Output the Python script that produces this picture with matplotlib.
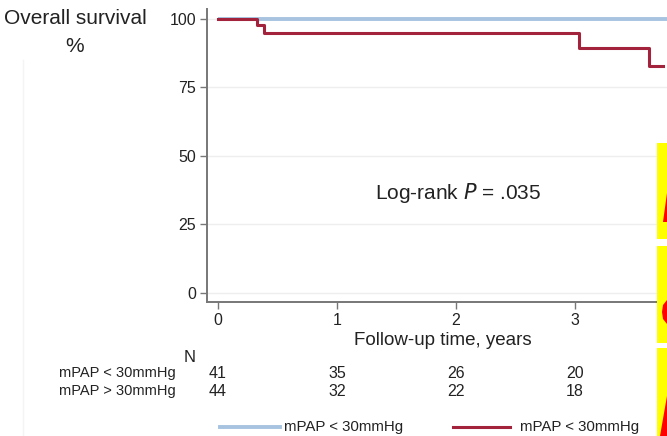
import matplotlib
matplotlib.use("Agg")
import matplotlib.pyplot as plt
from matplotlib.patches import Rectangle, Polygon
from matplotlib.lines import Line2D
import matplotlib.transforms as mtransforms

plt.rcParams['font.family'] = ['Liberation Sans', 'DejaVu Sans']

# ---- data ----
low_times = [0, 3.8]
low_surv = [100, 100]
high_times = [0, 0.325, 0.39, 3.03, 3.62, 3.74]
high_surv = [100, 97.7, 95.0, 89.5, 82.8, 82.8]
x_ticks = [0, 1, 2, 3]
y_ticks = [0, 25, 50, 75, 100]
risk_times = [0, 1, 2, 3]
risk_low = [41, 35, 26, 20]
risk_high = [44, 32, 22, 18]
row_labels = ["mPAP < 30mmHg", "mPAP > 30mmHg"]
legend_labels = ["mPAP < 30mmHg", "mPAP < 30mmHg"]

W, H = 667, 436
fig = plt.figure(figsize=(W / 100, H / 100), dpi=100)

def fx(px):
    return px / W

def fy(py):
    return 1 - py / H

blue = '#a7c3e0'
red = '#a3223c'
gray = '#777777'
txt = '#222222'

ax = fig.add_axes([fx(207), fy(302), fx(460), 293 / H])
ax.set_xlim(-0.0924, 3.773)
ax.set_ylim(-3.3, 103.6)
for s in ['top', 'right']:
    ax.spines[s].set_visible(False)
for s in ['left', 'bottom']:
    ax.spines[s].set_color(gray)
    ax.spines[s].set_linewidth(1.4)
ax.set_xticks(x_ticks)
ax.set_yticks(y_ticks)
ax.tick_params(axis='both', colors=gray, length=5, width=1, labelsize=11.5,
               labelcolor=txt, pad=3)
ax.yaxis.grid(True, color='#eeeeee', linewidth=1)
ax.set_axisbelow(True)

ax.plot(low_times, low_surv, color=blue, linewidth=2.8, solid_capstyle='butt', zorder=2)
ax.plot(high_times, high_surv, color=red, linewidth=2.2, drawstyle='steps-post', zorder=3)

ax.text(2.02, 36.5, "Log-rank $\\it{P}$ = .035", fontsize=15, ha='center', va='center',
        color=txt)

fig.text(fx(443), fy(340), "Follow-up time, years", fontsize=13.5, ha='center', va='center',
         color=txt)

fig.text(fx(75), fy(18), "Overall survival", fontsize=15, ha='center', va='center', color=txt)
fig.text(fx(75), fy(46), "%", fontsize=15, ha='center', va='center', color=txt)

# risk table
trans = mtransforms.blended_transform_factory(ax.transData, fig.transFigure)
fig.text(fx(190), fy(357), "N", fontsize=12, ha='center', va='center', color=txt)
for lab, yy in zip(row_labels, [373, 391]):
    fig.text(fx(176), fy(yy), lab, fontsize=10.5, ha='right', va='center', color=txt)
for t, a, b in zip(risk_times, risk_low, risk_high):
    fig.text(t, fy(373), str(a), fontsize=11.5, ha='center', va='center', transform=trans,
             color=txt)
    fig.text(t, fy(391), str(b), fontsize=11.5, ha='center', va='center', transform=trans,
             color=txt)

# legend
fig.add_artist(Line2D([fx(220), fx(280)], [fy(427), fy(427)], color=blue, linewidth=2.8,
                      transform=fig.transFigure))
fig.text(fx(284), fy(427), legend_labels[0], fontsize=10.8, ha='left', va='center', color=txt)
fig.add_artist(Line2D([fx(453), fx(510)], [fy(427), fy(427)], color=red, linewidth=2.2,
                      transform=fig.transFigure))
fig.text(fx(520), fy(427), legend_labels[1], fontsize=10.8, ha='left', va='center', color=txt)

# faint artifacts at left
fig.add_artist(Line2D([fx(23), fx(23)], [fy(60), fy(436)], color='#f4f4f4', linewidth=1,
                      transform=fig.transFigure))

# yellow boxes at right edge (cropped overlay)
for y0, y1 in [(143, 239), (246, 343), (348, 436)]:
    fig.add_artist(Rectangle((fx(657), fy(y1)), fx(10), (y1 - y0) / H, facecolor='#ffff00',
                             edgecolor='none', transform=fig.transFigure))
fig.add_artist(Polygon([[fx(663), fy(222)], [fx(667), fy(193)], [fx(667), fy(222)]],
                       closed=True, facecolor='#ff0000', edgecolor='none', transform=fig.transFigure))
fig.add_artist(Polygon([[fx(667), fy(300)], [fx(663), fy(305)], [fx(662), fy(312)], [fx(663), fy(319)],
                        [fx(667), fy(324)]],
                       closed=True, facecolor='#ff0000', edgecolor='none', transform=fig.transFigure))
fig.add_artist(Polygon([[fx(660), fy(436)], [fx(667), fy(396)], [fx(667), fy(436)]],
                       closed=True, facecolor='#ff0000', edgecolor='none', transform=fig.transFigure))

fig.savefig("out.png", dpi=100)
